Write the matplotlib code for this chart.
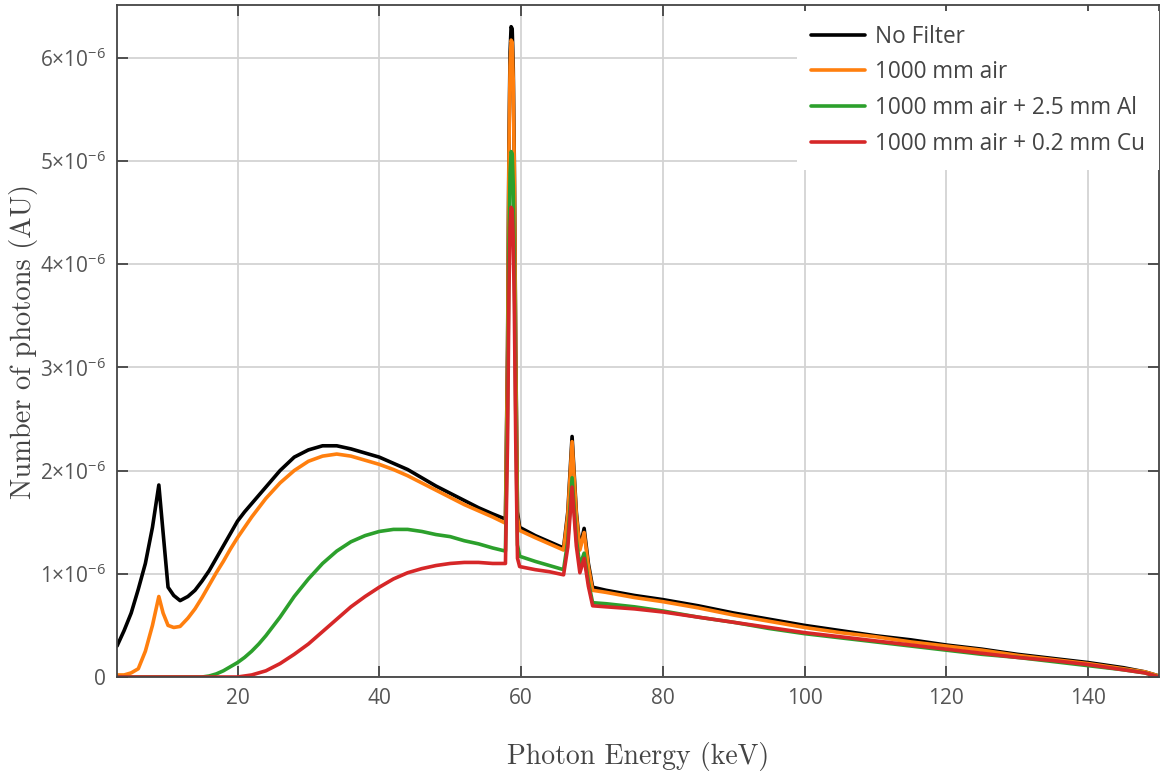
import numpy as np
import matplotlib
matplotlib.use("Agg")
import matplotlib.pyplot as plt
from matplotlib.ticker import FuncFormatter, MultipleLocator

plt.rcParams["font.family"] = ["Open Sans", "DejaVu Sans"]
plt.rcParams["mathtext.default"] = "regular"

# photon energy grid (keV)
energy = [3, 4, 5, 6, 7, 8, 8.9, 9.5, 10.2, 11, 11.9, 13, 14, 15, 16, 17, 18, 19, 20,
          21, 22, 23, 24, 26, 28, 30, 32, 34, 36, 38, 40, 42, 44, 46, 48, 50, 52, 54, 56,
          57.8, 58.1, 58.3, 58.45, 58.6, 58.75, 58.9, 59.05, 59.25, 59.5, 59.8,
          62, 64, 66, 66.6, 67.2, 67.8, 68.3, 68.9, 69.5, 70.1,
          72, 76, 80, 85, 90, 95, 100, 105, 110, 115, 120, 125, 130, 135, 140, 145, 148, 150]

# photon counts, in units of 1e-6
no_filter = [0.30, 0.45, 0.62, 0.85, 1.10, 1.45, 1.86, 1.40, 0.87, 0.79, 0.74, 0.78, 0.84, 0.93, 1.03, 1.15, 1.27, 1.39, 1.51,
             1.60, 1.68, 1.76, 1.84, 2.00, 2.13, 2.20, 2.24, 2.24, 2.21, 2.17, 2.13, 2.07, 2.01, 1.93, 1.85, 1.78, 1.71, 1.64, 1.58,
             1.53, 3.20, 5.20, 6.05, 6.30, 6.28, 5.90, 5.00, 3.20, 1.60, 1.45,
             1.37, 1.31, 1.25, 1.60, 2.33, 1.60, 1.25, 1.44, 1.10, 0.87,
             0.84, 0.79, 0.75, 0.69, 0.62, 0.56, 0.50, 0.45, 0.40, 0.36, 0.31, 0.27, 0.22, 0.18, 0.14, 0.09, 0.05, 0.01]

air = [0.02, 0.02, 0.04, 0.08, 0.25, 0.50, 0.78, 0.62, 0.50, 0.48, 0.49, 0.57, 0.66, 0.77, 0.89, 1.01, 1.12, 1.24, 1.35,
       1.45, 1.55, 1.64, 1.73, 1.88, 2.00, 2.09, 2.14, 2.16, 2.14, 2.10, 2.06, 2.01, 1.95, 1.88, 1.81, 1.74, 1.67, 1.61, 1.55,
       1.49, 3.10, 5.10, 5.92, 6.17, 6.15, 5.78, 4.90, 3.10, 1.55, 1.42,
       1.35, 1.29, 1.23, 1.57, 2.28, 1.57, 1.23, 1.40, 1.07, 0.84,
       0.82, 0.77, 0.73, 0.67, 0.60, 0.54, 0.48, 0.43, 0.39, 0.34, 0.30, 0.26, 0.21, 0.17, 0.13, 0.08, 0.05, 0.01]

air_al = [0.0, 0.0, 0.0, 0.0, 0.0, 0.0, 0.0, 0.0, 0.0, 0.0, 0.0, 0.0, 0.0, 0.0, 0.01, 0.03, 0.06, 0.10, 0.14,
          0.19, 0.25, 0.32, 0.40, 0.58, 0.78, 0.95, 1.10, 1.22, 1.31, 1.37, 1.41, 1.43, 1.43, 1.41, 1.38, 1.36, 1.32, 1.29, 1.25,
          1.22, 2.60, 4.20, 4.88, 5.09, 5.07, 4.76, 4.00, 2.60, 1.28, 1.17,
          1.12, 1.08, 1.04, 1.32, 1.93, 1.33, 1.08, 1.20, 0.92, 0.72,
          0.71, 0.68, 0.64, 0.58, 0.53, 0.47, 0.42, 0.38, 0.34, 0.30, 0.26, 0.22, 0.19, 0.15, 0.11, 0.07, 0.04, 0.0]

air_cu = [0.0, 0.0, 0.0, 0.0, 0.0, 0.0, 0.0, 0.0, 0.0, 0.0, 0.0, 0.0, 0.0, 0.0, 0.0, 0.0, 0.0, 0.0, 0.0,
          0.01, 0.02, 0.04, 0.06, 0.13, 0.22, 0.32, 0.44, 0.56, 0.68, 0.78, 0.87, 0.95, 1.01, 1.05, 1.08, 1.10, 1.11, 1.11, 1.10,
          1.10, 2.30, 3.75, 4.36, 4.55, 4.53, 4.25, 3.60, 2.30, 1.15, 1.07,
          1.04, 1.02, 0.99, 1.26, 1.84, 1.27, 1.01, 1.15, 0.88, 0.69,
          0.68, 0.66, 0.63, 0.58, 0.53, 0.48, 0.43, 0.39, 0.35, 0.31, 0.27, 0.23, 0.19, 0.16, 0.12, 0.07, 0.04, 0.0]

labels = ["No Filter", "1000 mm air", "1000 mm air + 2.5 mm Al", "1000 mm air + 0.2 mm Cu"]
colors = ["#000000", "#ff7f0e", "#2ca02c", "#d62728"]

fig = plt.figure(figsize=(11.62, 7.71), dpi=100)
ax = fig.add_axes([0.1007, 0.1219, 0.8967, 0.8716])

for series, lab, col in zip([no_filter, air, air_al, air_cu], labels, colors):
    ax.plot(energy, np.array(series) * 1e-6, color=col, lw=2.6, label=lab,
            solid_joinstyle="round", solid_capstyle="round")

ax.set_xlim(3, 150)
ax.set_ylim(0, 6.51e-6)
ax.xaxis.set_major_locator(MultipleLocator(20))
ax.yaxis.set_major_locator(MultipleLocator(1e-6))


def ylab(v, pos):
    if abs(v) < 1e-12:
        return "0"
    return f"{v / 1e-6:.0f}×10$^{{-6}}$"


ax.yaxis.set_major_formatter(FuncFormatter(ylab))
ax.grid(True, color="#d3d3d3", lw=1.3)
ax.set_axisbelow(True)
ax.tick_params(direction="in", length=8, width=1.3, color="#444444",
               labelcolor="#555555", labelsize=15, top=True, right=True, pad=8)
for s in ax.spines.values():
    s.set_color("#444444")
    s.set_linewidth(1.3)

ax.set_xlabel("Photon Energy (keV)", fontfamily="cmr10", fontsize=20, color="#444444", labelpad=24)
ax.set_ylabel("Number of photons (AU)", fontfamily="cmr10", fontsize=20.5, color="#444444", labelpad=1)

leg = ax.legend(loc="upper right", bbox_to_anchor=(1, 0.991), fontsize=16.3, frameon=True,
                fancybox=False, borderaxespad=0, handlelength=2.4, handletextpad=0.45,
                labelspacing=0.52, borderpad=0.6)
leg.get_frame().set_edgecolor("none")
leg.get_frame().set_facecolor("white")
leg.get_frame().set_alpha(1)
for t in leg.get_texts():
    t.set_color("#444444")

fig.savefig("out.png", dpi=100)
